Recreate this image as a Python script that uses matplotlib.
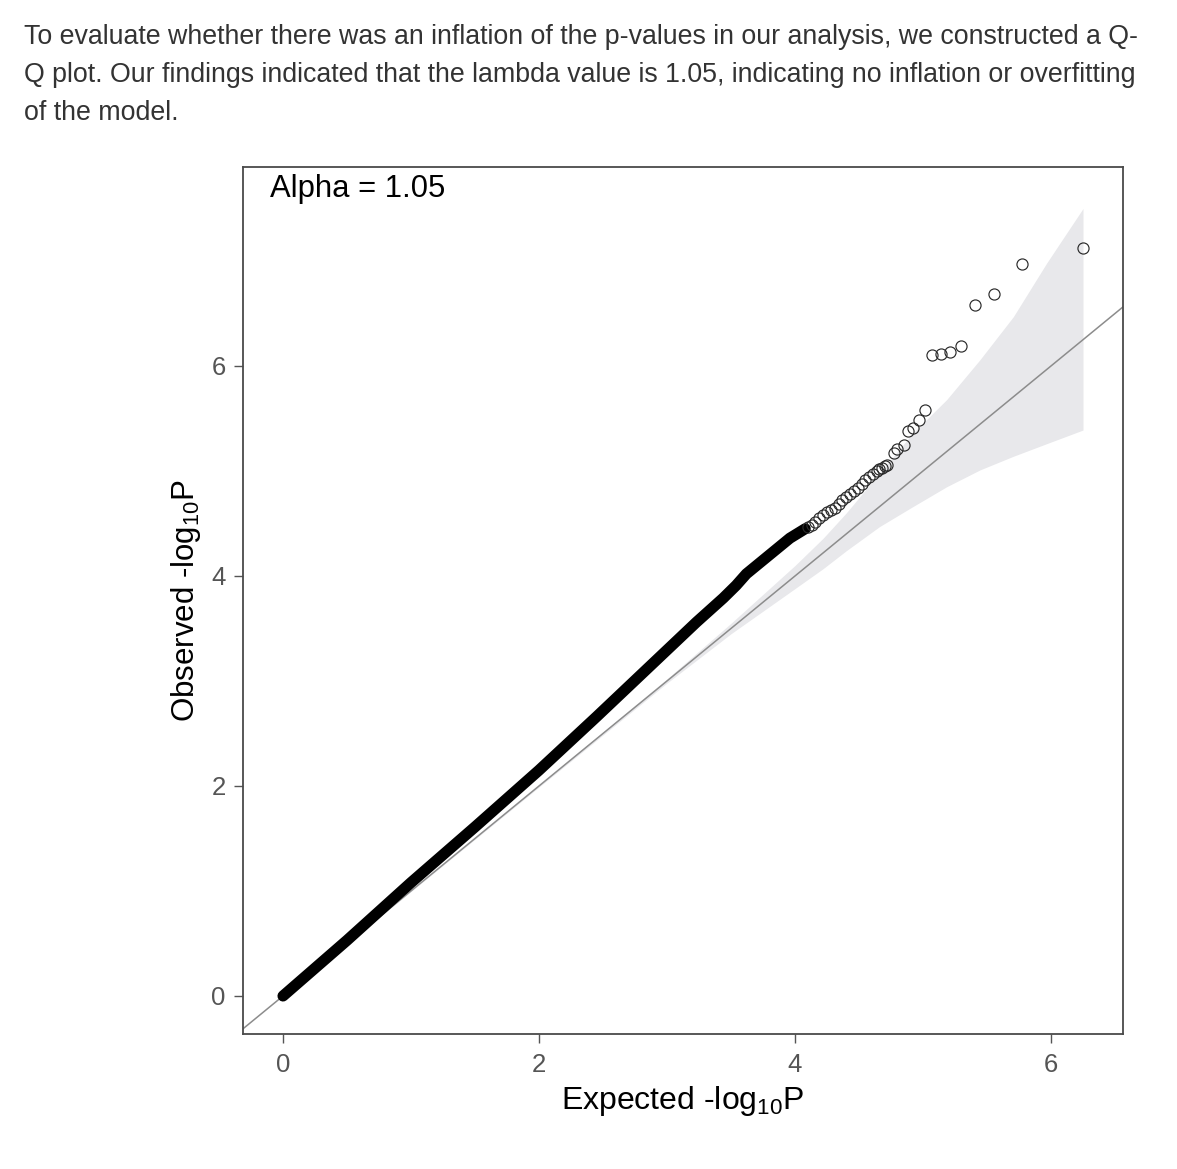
import matplotlib
matplotlib.use("Agg")
import matplotlib.pyplot as plt

plt.rcParams['font.family'] = ['Liberation Sans', 'DejaVu Sans']
plt.rcParams['mathtext.fontset'] = 'custom'
plt.rcParams['mathtext.rm'] = 'Liberation Sans'
plt.rcParams['mathtext.it'] = 'Liberation Sans:italic'

# ---- data ----
paragraph = [
    "To evaluate whether there was an inflation of the p-values in our analysis, we constructed a Q-",
    "Q plot. Our findings indicated that the lambda value is 1.05, indicating no inflation or overfitting",
    "of the model.",
]
annotation = "Alpha = 1.05"
x_label = r"Expected -log$_{10}$P"
y_label = r"Observed -log$_{10}$P"
x_ticks = [0, 2, 4, 6]
y_ticks = [0, 2, 4, 6]

# dense part of the QQ curve (appears as a solid black band)
dense_exp = [0.00, 0.50, 1.00, 1.50, 2.00, 2.45, 2.97, 3.23, 3.44, 3.54, 3.62, 3.75, 3.96, 4.08]
dense_obs = [0.00, 0.53, 1.08, 1.61, 2.15, 2.66, 3.26, 3.56, 3.79, 3.91, 4.02, 4.15, 4.36, 4.45]

# individual tail points (open circles)
tail_exp = [4.10, 4.13, 4.16, 4.19, 4.22, 4.25, 4.28, 4.31, 4.34, 4.37, 4.40, 4.43,
            4.46, 4.49, 4.52, 4.55, 4.58, 4.61, 4.64, 4.66, 4.68, 4.70, 4.72,
            4.77, 4.80, 4.85, 4.885, 4.92, 4.97, 5.018,
            5.068, 5.138, 5.211, 5.30, 5.406, 5.552, 5.776, 6.25]
tail_obs = [4.47, 4.49, 4.51, 4.55, 4.58, 4.61, 4.63, 4.65, 4.69, 4.72, 4.75, 4.78,
            4.81, 4.84, 4.88, 4.91, 4.94, 4.97, 5.00, 5.02, 5.03, 5.05, 5.06,
            5.17, 5.21, 5.25, 5.385, 5.41, 5.486, 5.581,
            6.105, 6.114, 6.130, 6.193, 6.584, 6.683, 6.975, 7.127]

# confidence band
ci_exp = [0.00, 2.00, 3.00, 3.50, 4.00, 4.22, 4.40, 4.66, 4.92, 5.185, 5.445, 5.706, 5.966, 6.25]
ci_upper = [0.00, 2.01, 3.02, 3.55, 4.10, 4.36, 4.60, 4.98, 5.36, 5.68, 6.06, 6.47, 6.98, 7.50]
ci_lower = [0.00, 1.99, 2.98, 3.45, 3.88, 4.07, 4.24, 4.47, 4.66, 4.85, 5.01, 5.14, 5.26, 5.39]

# ---- figure ----
W, H = 1177, 1169
DPI = 100
fig = plt.figure(figsize=(W / DPI, H / DPI), dpi=DPI)
fig.patch.set_facecolor('white')

ax = fig.add_axes([243 / W, 1 - 1034 / H, (1123 - 243) / W, (1034 - 167) / H])

ax.fill_between(ci_exp, ci_lower, ci_upper, color='#e8e8eb', linewidth=0, zorder=1)
ax.axline((0, 0), slope=1, color='#8c8c8c', linewidth=1.1, zorder=2)
ax.plot(dense_exp, dense_obs, color='black', linewidth=8.0,
        solid_capstyle='round', solid_joinstyle='round', zorder=3)
ax.plot(tail_exp, tail_obs, linestyle='none', marker='o', markersize=8.0,
        markerfacecolor='none', markeredgecolor='#2a2a2a', markeredgewidth=0.85, zorder=4)

ax.set_xlim(-0.3125, 6.5625)
ax.set_ylim(-0.362, 7.895)
ax.set_xticks(x_ticks)
ax.set_yticks(y_ticks)
ax.set_xticklabels([str(t) for t in x_ticks])
ax.set_yticklabels([str(t) for t in y_ticks])

for s in ax.spines.values():
    s.set_color('#4a4a4a')
    s.set_linewidth(1.3)
ax.tick_params(direction='out', length=6.5, width=1.0, color='#555555',
               labelsize=18.5, labelcolor='#555555')
ax.tick_params(axis='x', pad=7)
ax.tick_params(axis='y', pad=6)

ax.set_xlabel(x_label, fontsize=23, color='black', labelpad=5)
ax.set_ylabel(y_label, fontsize=22.5, color='black', labelpad=6)

ax.text(0.031, 0.975, annotation, transform=ax.transAxes, fontsize=22.3,
        color='black', ha='left', va='center')

# paragraph text: scale font to span the measured width of the first line
fs = 18.0
t = fig.text(24 / W, 1 - 44 / H, paragraph[0], fontsize=fs, color='#333333',
             ha='left', va='baseline')
fig.canvas.draw()
w = t.get_window_extent().width
fs = fs * (1139 - 24) / w
t.set_fontsize(fs)
for i, line in enumerate(paragraph[1:], start=1):
    fig.text(24 / W, 1 - (44 + 38 * i) / H, line, fontsize=fs, color='#333333',
             ha='left', va='baseline')

fig.savefig('out.png', dpi=DPI, facecolor='white')
